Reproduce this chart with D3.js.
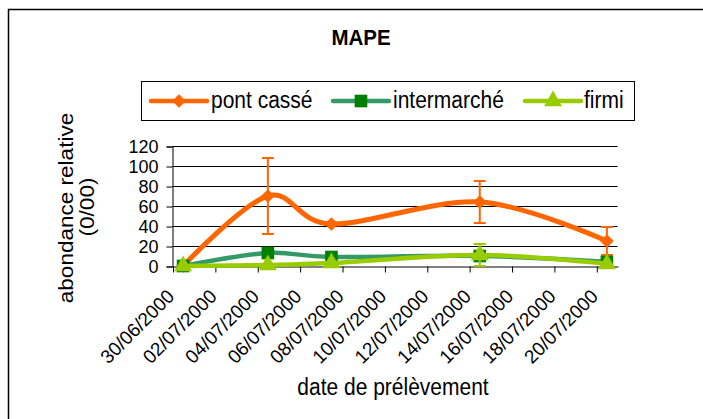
<!DOCTYPE html>
<html>
<head>
<meta charset="utf-8">
<script src="https://cdn.jsdelivr.net/npm/d3@7"></script>
<style>
  body { margin: 0; background: #fff; }
  svg { font-family: Arial, "Liberation Sans", sans-serif; }
</style>
</head>
<body>
<svg width="703" height="419"></svg>
<script>
// values
let sampleDates = ["2000-06-30", "2000-07-04", "2000-07-07", "2000-07-14", "2000-07-20"];
let pontCasse = [0, 70, 42, 64, 25];
let pontCasseErr = [0, 38, 0, 21, 14];
let intermarche = [0, 13, 9, 10, 4];
let firmi = [0, 1, 3, 11, 2];
let firmiErr = [0, 0, 0, 11, 0];
let yTicks = [0, 20, 40, 60, 80, 100, 120];
let tickDates = ["2000-06-30", "2000-07-02", "2000-07-04", "2000-07-06", "2000-07-08",
    "2000-07-10", "2000-07-12", "2000-07-14", "2000-07-16", "2000-07-18", "2000-07-20"];

let svg = d3.select("svg");
let parse = d3.utcParse("%Y-%m-%d");
let fmt = d3.utcFormat("%d/%m/%Y");
let day = 24 * 3600 * 1000;

// outer frame
svg.append("rect")
    .attr("x", 9.5).attr("y", 10.5)
    .attr("width", 720).attr("height", 430)
    .attr("fill", "none").attr("stroke", "#ccc").attr("stroke-width", 3);
svg.append("rect")
    .attr("x", 8.5).attr("y", 9.5)
    .attr("width", 720).attr("height", 430)
    .attr("fill", "#fff").attr("stroke", "#000").attr("stroke-width", 1.5);

let x = d3.scaleUtc()
    .domain([parse("2000-06-30"), parse("2000-07-21")])
    .range([172.5, 617.5]);
let y = d3.scaleLinear()
    .domain([0, 120])
    .range([266, 146]);

// gridlines
svg.append("g")
    .selectAll("line")
    .data(yTicks.filter(d => d > 0))
    .enter().append("line")
    .attr("x1", 172.5).attr("x2", 617.5)
    .attr("y1", d => Math.round(y(d)) + 0.5)
    .attr("y2", d => Math.round(y(d)) + 0.5)
    .attr("stroke", "#000").attr("stroke-width", 1);

// y axis
let yAxis = svg.append("g")
    .attr("transform", "translate(172.5,0.5)")
    .call(d3.axisLeft(y).tickValues(yTicks).tickSize(6).tickPadding(8));
yAxis.attr("font-family", null).attr("font-size", null);
yAxis.selectAll("text").style("font-size", "18px").attr("fill", "#000").attr("dy", "0.36em");
yAxis.selectAll("line, path").attr("stroke", "#000");

// x axis (date axis, 2-day major unit)
let xAxis = svg.append("g")
    .attr("transform", "translate(0.5,266.5)")
    .call(d3.axisBottom(x)
        .tickValues(tickDates.map(parse))
        .tickFormat(fmt)
        .tickSize(6)
        .tickSizeOuter(0));
xAxis.attr("font-family", null).attr("font-size", null);
xAxis.selectAll("line, path").attr("stroke", "#000");
xAxis.selectAll("text")
    .style("font-size", "19px")
    .attr("fill", "#000")
    .attr("text-anchor", "end")
    .attr("x", 0).attr("y", 0).attr("dy", "0")
    .attr("transform", "translate(2,31) rotate(-45)");

let px = (d) => x(new Date(parse(d).getTime() + day / 2));

function drawSeries(vals, color, width) {
    let pts = vals.map((v, i) => [px(sampleDates[i]), y(v)]);
    svg.append("path")
        .attr("d", d3.line().curve(d3.curveCardinal.tension(0))(pts))
        .attr("fill", "none")
        .attr("stroke", color)
        .attr("stroke-width", width)
        .attr("stroke-linecap", "round");
}

function drawErr(vals, errs, color) {
    let g = svg.append("g").attr("stroke", color).attr("stroke-width", 2);
    vals.forEach((v, i) => {
        if (!errs[i]) return;
        let cx = px(sampleDates[i]);
        let lo = y(Math.max(0, v - errs[i])), hi = y(v + errs[i]);
        g.append("line").attr("x1", cx).attr("x2", cx).attr("y1", lo).attr("y2", hi);
        g.append("line").attr("x1", cx - 6).attr("x2", cx + 6).attr("y1", lo).attr("y2", lo);
        g.append("line").attr("x1", cx - 6).attr("x2", cx + 6).attr("y1", hi).attr("y2", hi);
    });
}

let diamond = d3.symbol().type(d3.symbolDiamond2).size(120);
let square = d3.symbol().type(d3.symbolSquare).size(160);
let triangle = d3.symbol().type(d3.symbolTriangle).size(140);

function drawMarkers(vals, sym, fill) {
    svg.append("g")
        .selectAll("path")
        .data(vals)
        .enter().append("path")
        .attr("d", sym)
        .attr("transform", (d, i) => "translate(" + px(sampleDates[i]) + "," + y(d) + ")")
        .attr("fill", fill);
}

drawSeries(pontCasse, "#ff6600", 5);
drawErr(pontCasse, pontCasseErr, "#ff6600");
drawMarkers(pontCasse, diamond, "#ff6600");

drawSeries(intermarche, "#339966", 4.5);
drawMarkers(intermarche, square, "#008000");

drawSeries(firmi, "#99cc00", 4.5);
drawErr(firmi, firmiErr, "#99cc00");
drawMarkers(firmi, triangle, "#99cc00");

// title
svg.append("text")
    .attr("transform", "translate(361,45) scale(1,1.1)")
    .attr("text-anchor", "middle")
    .style("font-size", "20.5px").style("font-weight", "bold")
    .text("MAPE");

// legend
let legend = svg.append("g");
legend.append("rect")
    .attr("x", 141.5).attr("y", 81.5)
    .attr("width", 493).attr("height", 39)
    .attr("fill", "#fff").attr("stroke", "#000");

let legendItems = [
    { name: "pont cassé", color: "#ff6600", mark: "#ff6600", sym: diamond, x0: 151, tx: 211 },
    { name: "intermarché", color: "#339966", mark: "#008000", sym: square, x0: 333, tx: 393 },
    { name: "firmi", color: "#99cc00", mark: "#99cc00", sym: triangle, x0: 525, tx: 584 }
];
legendItems.forEach(d => {
    legend.append("line")
        .attr("x1", d.x0).attr("x2", d.x0 + 56)
        .attr("y1", 101).attr("y2", 101)
        .attr("stroke", d.color).attr("stroke-width", 4.5)
        .attr("stroke-linecap", "round");
    legend.append("path")
        .attr("d", d.sym)
        .attr("transform", "translate(" + (d.x0 + 28) + ",101)")
        .attr("fill", d.mark);
    legend.append("text")
        .attr("transform", "translate(" + d.tx + ",108) scale(1,1.1)")
        .style("font-size", "21px")
        .text(d.name);
});

// axis titles
svg.append("text")
    .attr("transform", "translate(73,208) rotate(-90) scale(1.1,1)")
    .attr("text-anchor", "middle")
    .style("font-size", "20.5px")
    .text("abondance relative");
svg.append("text")
    .attr("transform", "translate(94,207) rotate(-90) scale(1.1,1)")
    .attr("text-anchor", "middle")
    .style("font-size", "20.5px")
    .text("(0/00)");

svg.append("text")
    .attr("transform", "translate(393,395) scale(1,1.1)")
    .attr("text-anchor", "middle")
    .style("font-size", "21px")
    .text("date de prélèvement");
</script>
</body>
</html>
